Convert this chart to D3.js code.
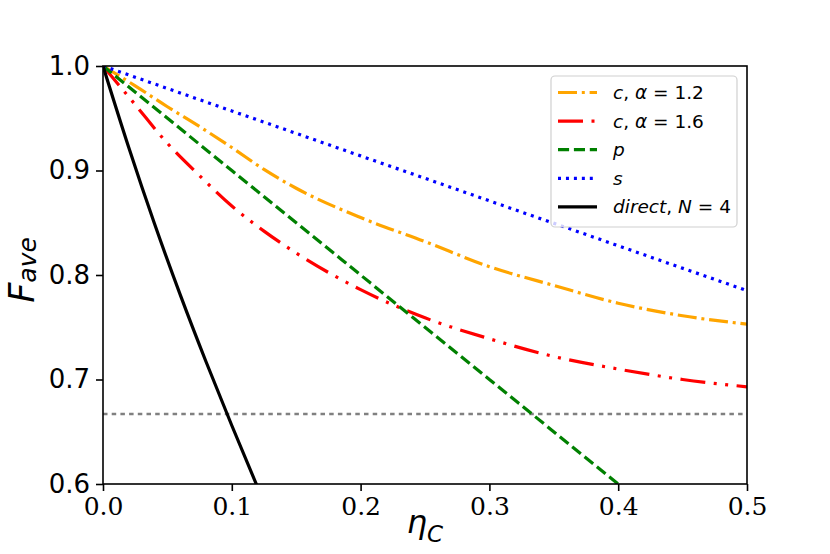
<!DOCTYPE html>
<html>
<head>
<meta charset="utf-8">
<script src="https://cdn.jsdelivr.net/npm/d3@7"></script>
<style>
  body { margin: 0; background: #fff; }
</style>
</head>
<body>
<div id="vis-holder"></div>
<script>

// curves
const ETA_C = [0, 0.025, 0.05, 0.075, 0.1, 0.125, 0.15, 0.2, 0.25, 0.3, 0.35, 0.4, 0.45, 0.5];
const F_C12 = [1.0, 0.981, 0.961, 0.942, 0.922, 0.901, 0.883, 0.855, 0.832, 0.808, 0.790, 0.773, 0.761, 0.753];
const F_C16 = [1.0, 0.963, 0.926, 0.895, 0.866, 0.842, 0.821, 0.786, 0.759, 0.739, 0.722, 0.710, 0.700, 0.693];

const ETA_P = [0, 0.1, 0.2, 0.3, 0.4];
const F_P = [1.0, 0.9, 0.8, 0.7, 0.6];

const ETA_S = [0, 0.1, 0.2, 0.3, 0.4, 0.5];
const F_S = [1.0, 0.957, 0.914, 0.871, 0.828, 0.785];

const ETA_DIRECT = [0, 0.02, 0.04, 0.06, 0.08, 0.1, 0.12];
const F_DIRECT = [1.0, 0.922, 0.849, 0.781, 0.717, 0.656, 0.597];

const THRESHOLD = 0.667;

const X_TICKS = [0, 0.1, 0.2, 0.3, 0.4, 0.5];
const Y_TICKS = [0.6, 0.7, 0.8, 0.9, 1.0];

// legend labels: [text, italic]
const LABEL_C12 = [["c", true], [", ", false], ["α", true], [" = 1.2", false]];
const LABEL_C16 = [["c", true], [", ", false], ["α", true], [" = 1.6", false]];
const LABEL_P = [["p", true]];
const LABEL_S = [["s", true]];
const LABEL_DIRECT = [["direct", true], [", ", false], ["N", true], [" = 4", false]];

const zip = (xs, ys) => xs.map((x, i) => [x, ys[i]]);

const series = [
  {pts: zip(ETA_C, F_C12), label: LABEL_C12, color: "orange", dash: "19,4.8,3,4.8"},
  {pts: zip(ETA_C, F_C16), label: LABEL_C16, color: "red", dash: "25,8.5,3,8.5,3,8.5"},
  {pts: zip(ETA_P, F_P), label: LABEL_P, color: "green", dash: "11.1,4.8"},
  {pts: zip(ETA_S, F_S), label: LABEL_S, color: "blue", dash: "3,4.95"},
  {pts: zip(ETA_DIRECT, F_DIRECT), label: LABEL_DIRECT, color: "black", dash: null}
];

var W = 830, H = 554;
var margin = {top: 66, right: 83, bottom: 70, left: 103},
    width = W - margin.left - margin.right,
    height = H - margin.top - margin.bottom;

var svg = d3.select("#vis-holder")
  .append("svg")
    .attr("width", W)
    .attr("height", H)
    .style("font-family", "'DejaVu Sans', sans-serif");

var plot = svg.append("g")
    .attr("transform", "translate(" + margin.left + "," + margin.top + ")");

var x = d3.scaleLinear().domain([0, 0.5]).range([0, width]);
var y = d3.scaleLinear().domain([0.6, 1.0]).range([height, 0]);

plot.append("clipPath").attr("id", "clip")
  .append("rect").attr("width", width).attr("height", height);

var lines = plot.append("g").attr("clip-path", "url(#clip)");

// horizontal threshold
lines.append("line")
  .attr("x1", x(0)).attr("x2", x(0.5))
  .attr("y1", y(THRESHOLD)).attr("y2", y(THRESHOLD))
  .attr("stroke", "gray")
  .attr("stroke-width", 2.5)
  .attr("stroke-dasharray", "4.5,4.2");

var line = d3.line()
  .x(d => x(d[0]))
  .y(d => y(d[1]))
  .curve(d3.curveMonotoneX);

lines.selectAll("path.curve")
  .data(series)
  .enter()
  .append("path")
    .attr("class", "curve")
    .attr("d", d => line(d.pts))
    .attr("fill", "none")
    .attr("stroke", d => d.color)
    .attr("stroke-width", 3.2)
    .attr("stroke-dasharray", d => d.dash);

// axes
var xAxis = plot.append("g")
  .attr("transform", "translate(0," + height + ")")
  .call(d3.axisBottom(x).tickValues(X_TICKS).tickFormat(d3.format(".1f")).tickSize(7).tickPadding(6).tickSizeOuter(0));
xAxis.selectAll("text")
  .style("font-family", "'DejaVu Serif', serif")
  .style("font-size", "25px")
  .attr("fill", "#000");

var yAxis = plot.append("g")
  .call(d3.axisLeft(y).tickValues(Y_TICKS).tickFormat(d3.format(".1f")).tickSize(7).tickPadding(6).tickSizeOuter(0));
yAxis.selectAll("text")
  .style("font-family", "'DejaVu Sans', sans-serif")
  .style("font-size", "26px")
  .attr("fill", "#000");

[xAxis, yAxis].forEach(a => {
  a.select(".domain").remove();
  a.selectAll(".tick line").attr("stroke", "#000").attr("stroke-width", 1.6);
});

// frame
plot.append("rect")
  .attr("width", width).attr("height", height)
  .attr("fill", "none")
  .attr("stroke", "#000")
  .attr("stroke-width", 1.6);

// axis labels
var xl = svg.append("text")
  .attr("x", margin.left + width / 2)
  .attr("y", 533)
  .attr("text-anchor", "middle");
xl.append("tspan").text("η").style("font-style", "italic").style("font-size", "32px");
xl.append("tspan").text("C").style("font-style", "italic").style("font-size", "23px").attr("dy", 9);

var yl = svg.append("text")
  .attr("transform", "translate(34," + (margin.top + height / 2 - 5) + ") rotate(-90)")
  .attr("text-anchor", "middle");
yl.append("tspan").text("F").style("font-style", "italic").style("font-size", "35px");
yl.append("tspan").text("ave").style("font-style", "italic").style("font-size", "25px").attr("dy", 2);

// legend
var lx = 551, ly = 76, lw = 186, lh = 151, rowGap = 28.6;
var legend = svg.append("g");
legend.append("rect")
  .attr("x", lx).attr("y", ly)
  .attr("width", lw).attr("height", lh)
  .attr("rx", 4)
  .attr("fill", "#fff")
  .attr("fill-opacity", 0.8)
  .attr("stroke", "#d0d0d0")
  .attr("stroke-width", 1.2);

var rows = legend.selectAll("g.row")
  .data(series)
  .enter()
  .append("g")
    .attr("class", "row")
    .attr("transform", (d, i) => "translate(" + lx + "," + (ly + 16.5 + i * rowGap) + ")");

rows.append("line")
  .attr("x1", 7).attr("x2", 46)
  .attr("stroke", d => d.color)
  .attr("stroke-width", 3.2)
  .attr("stroke-dasharray", d => d.dash);

rows.append("text")
  .attr("x", 62)
  .attr("y", 6.5)
  .style("font-size", "18.5px")
  .each(function(d) {
    var t = d3.select(this);
    d.label.forEach(p => {
      t.append("tspan").text(p[0]).style("font-style", p[1] ? "italic" : "normal");
    });
  });

</script>
</body>
</html>
